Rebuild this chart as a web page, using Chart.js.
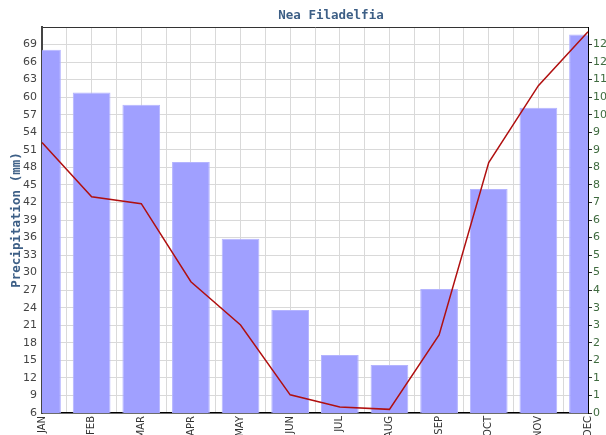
<!DOCTYPE html>
<html>
<head>
<meta charset="utf-8">
<script src="https://cdn.jsdelivr.net/npm/chart.js@4.4.1/dist/chart.umd.min.js"></script>
<style>
  html, body { margin: 0; padding: 0; background: #fff; }
  #wrap { width: 606px; height: 435px; }
</style>
</head>
<body>
<div id="wrap"><canvas id="chart" width="606" height="435"></canvas></div>
<script>
// ===== Dữ liệu =====
const months = ['JAN', 'FEB', 'MAR', 'APR', 'MAY', 'JUN', 'JUL', 'AUG', 'SEP', 'OCT', 'NOV', 'DEC'];
const precipitation = [68.1, 60.8, 58.7, 48.9, 35.8, 23.6, 15.9, 14.2, 27.2, 44.3, 58.2, 70.7];
const rightSeries = [8.94, 7.15, 6.92, 4.34, 2.91, 0.60, 0.20, 0.12, 2.58, 8.28, 10.82, 12.60];

// ===== Nhãn trục =====
const leftTicks = [6, 9, 12, 15, 18, 21, 24, 27, 30, 33, 36, 39, 42, 45, 48, 51, 54, 57, 60, 63, 66, 69];
const rightTickLabels = ['0', '1', '1', '2', '2', '3', '3', '4', '5', '5', '6', '6',
    '7', '8', '8', '9', '9', '10', '10', '11', '12', '12'];
const rightStep = 0.58;

const chartTitle = 'Nea Filadelfia';
const gridColor = '#d9d9d9';
const titleColor = '#3d5f86';

// ===== Tiêu đề (lệch phải so với tâm như ảnh gốc) =====
const titlePlugin = {
    id: 'titlePlugin',
    afterDraw(chart) {
        const c = chart.ctx;
        const area = chart.chartArea;
        c.save();
        c.font = 'bold 12.5px "DejaVu Sans Mono"';
        c.fillStyle = titleColor;
        c.textAlign = 'center';
        c.textBaseline = 'middle';
        c.fillText(chartTitle, (area.left + area.right) / 2 + 16, 16);
        c.restore();
    }
};

// ===== Vẽ biểu đồ =====
const ctx = document.getElementById('chart').getContext('2d');
new Chart(ctx, {
    data: {
        labels: months,
        datasets: [
            {
                type: 'line',
                data: rightSeries,
                yAxisID: 'y2',
                borderColor: '#b01010',
                borderWidth: 1.5,
                pointRadius: 0,
                tension: 0,
                fill: false,
                order: 0
            },
            {
                type: 'bar',
                data: precipitation,
                yAxisID: 'y',
                backgroundColor: '#a0a0ff',
                borderColor: '#b4b4ff',
                borderWidth: 1,
                barPercentage: 0.76,
                categoryPercentage: 1,
                order: 1
            }
        ]
    },
    plugins: [titlePlugin],
    options: {
        responsive: false,
        animation: false,
        devicePixelRatio: 1,
        layout: { padding: { top: 27, left: 0, right: 0, bottom: 0 } },
        plugins: {
            legend: { display: false },
            tooltip: { enabled: false },
            title: { display: false }
        },
        scales: {
            x: {
                type: 'category',
                offset: false,
                grid: { display: false, drawTicks: false },
                border: { color: '#000', width: 1.5 },
                ticks: {
                    autoSkip: false,
                    minRotation: 90,
                    maxRotation: 90,
                    padding: 3,
                    color: '#333',
                    font: { family: 'DejaVu Sans', size: 10 }
                },
                afterFit: s => { s.height = 22; }
            },
            xg: {
                type: 'linear',
                position: 'top',
                min: 0,
                max: 11,
                grid: { color: gridColor, drawTicks: false },
                border: { color: '#333', width: 1 },
                ticks: { display: false, stepSize: 0.5 },
                afterFit: s => { s.height = 0; }
            },
            y: {
                position: 'left',
                min: 6,
                max: 72,
                afterBuildTicks: s => { s.ticks = leftTicks.map(v => ({ value: v })); },
                grid: { color: gridColor, drawTicks: false },
                border: { color: '#444', width: 2 },
                ticks: {
                    padding: 5,
                    color: '#444',
                    font: { family: 'DejaVu Sans', size: 11 }
                },
                title: {
                    display: true,
                    text: 'Precipitation (mm)',
                    color: titleColor,
                    font: { family: 'DejaVu Sans Mono', size: 12.5, weight: 'bold' },
                    padding: { top: 9.5, bottom: 0 }
                },
                afterFit: s => { s.width = 42; }
            },
            y2: {
                position: 'right',
                min: 0,
                max: 22 * rightStep,
                afterBuildTicks: s => { s.ticks = rightTickLabels.map((t, i) => ({ value: i * rightStep })); },
                grid: { drawOnChartArea: false, tickLength: 4, color: '#333' },
                border: { color: '#000', width: 1 },
                ticks: {
                    padding: 1,
                    color: '#3f6b3f',
                    font: { family: 'DejaVu Sans', size: 11 },
                    callback: (v, i) => rightTickLabels[i]
                },
                afterFit: s => { s.width = 18; }
            }
        }
    }
});
</script>
</body>
</html>
